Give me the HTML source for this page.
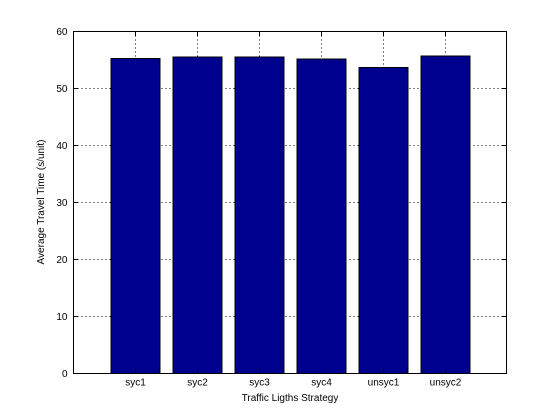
<!DOCTYPE html>
<html><head><meta charset="utf-8"><style>
body{margin:0;background:#fff;}
svg{display:block;font-family:"Liberation Sans",sans-serif;}
</style></head><body>
<svg id="chart" width="560" height="420" xmlns="http://www.w3.org/2000/svg">
<rect x="0" y="0" width="560" height="420" fill="#fff"/>
<g id="grid" shape-rendering="crispEdges"></g><g id="bars" shape-rendering="crispEdges"></g><g id="axes" shape-rendering="crispEdges"></g>
<text x="290" y="401" font-size="10" text-anchor="middle">Traffic Ligths Strategy</text>
<text transform="translate(44,202) rotate(-90)" font-size="10" text-anchor="middle">Average Travel Time (s/unit)</text>
</svg>
<script>
const categories=["syc1","syc2","syc3","syc4","unsyc1","unsyc2"];
const values=[55.3,55.5,55.5,55.2,53.7,55.7];
const yTicks=[0,10,20,30,40,50,60];
const L=73.5,R=506.5,T=31.5,B=373.5;
const xs=i=>Math.round(L+(i+1)*(R-L)/7)+0.5;
const ys=v=>B-(v/60)*(B-T);
const NS="http://www.w3.org/2000/svg";
function mk(t,a,p){const e=document.createElementNS(NS,t);for(const k in a)e.setAttribute(k,a[k]);p.appendChild(e);return e;}
const grid=document.getElementById('grid'),bars=document.getElementById('bars'),axes=document.getElementById('axes');
yTicks.forEach(v=>{const y=Math.round(ys(v)-0.5)+0.5;
 if(v>0&&v<60){const g=mk('line',{x1:L,x2:R,y1:y,y2:y,stroke:'#000','stroke-width':1,'stroke-dasharray':'1,3'},grid);
 
 }
 mk('line',{x1:L,x2:L+5,y1:y,y2:y,stroke:'#000'},axes);
 mk('line',{x1:R,x2:R-5,y1:y,y2:y,stroke:'#000'},axes);
 const t=mk('text',{x:L-6,y:y+3.5,'font-size':10,'text-anchor':'end'},axes);t.textContent=v;
 
 
});
categories.forEach((c,i)=>{const x=xs(i);
 mk('line',{x1:x,x2:x,y1:T,y2:B,stroke:'#000','stroke-dasharray':'1,3'},grid);
 const w=0.8*(R-L)/7;
 const b=mk('rect',{x:x-w/2,y:ys(values[i]),width:w,height:B-ys(values[i]),fill:'#00008f',stroke:'#000','stroke-width':1},bars);
 
 
 mk('line',{x1:x,x2:x,y1:B,y2:B-5,stroke:'#000'},axes);
 mk('line',{x1:x,x2:x,y1:T,y2:T+5,stroke:'#000'},axes);
 const t=mk('text',{x:x,y:B+12,'font-size':10,'text-anchor':'middle'},axes);t.textContent=c;
 
 
});
const f=mk('rect',{x:L,y:T,width:R-L,height:B-T,fill:'none',stroke:'#000','stroke-width':1},axes);


</script>
</body></html>
